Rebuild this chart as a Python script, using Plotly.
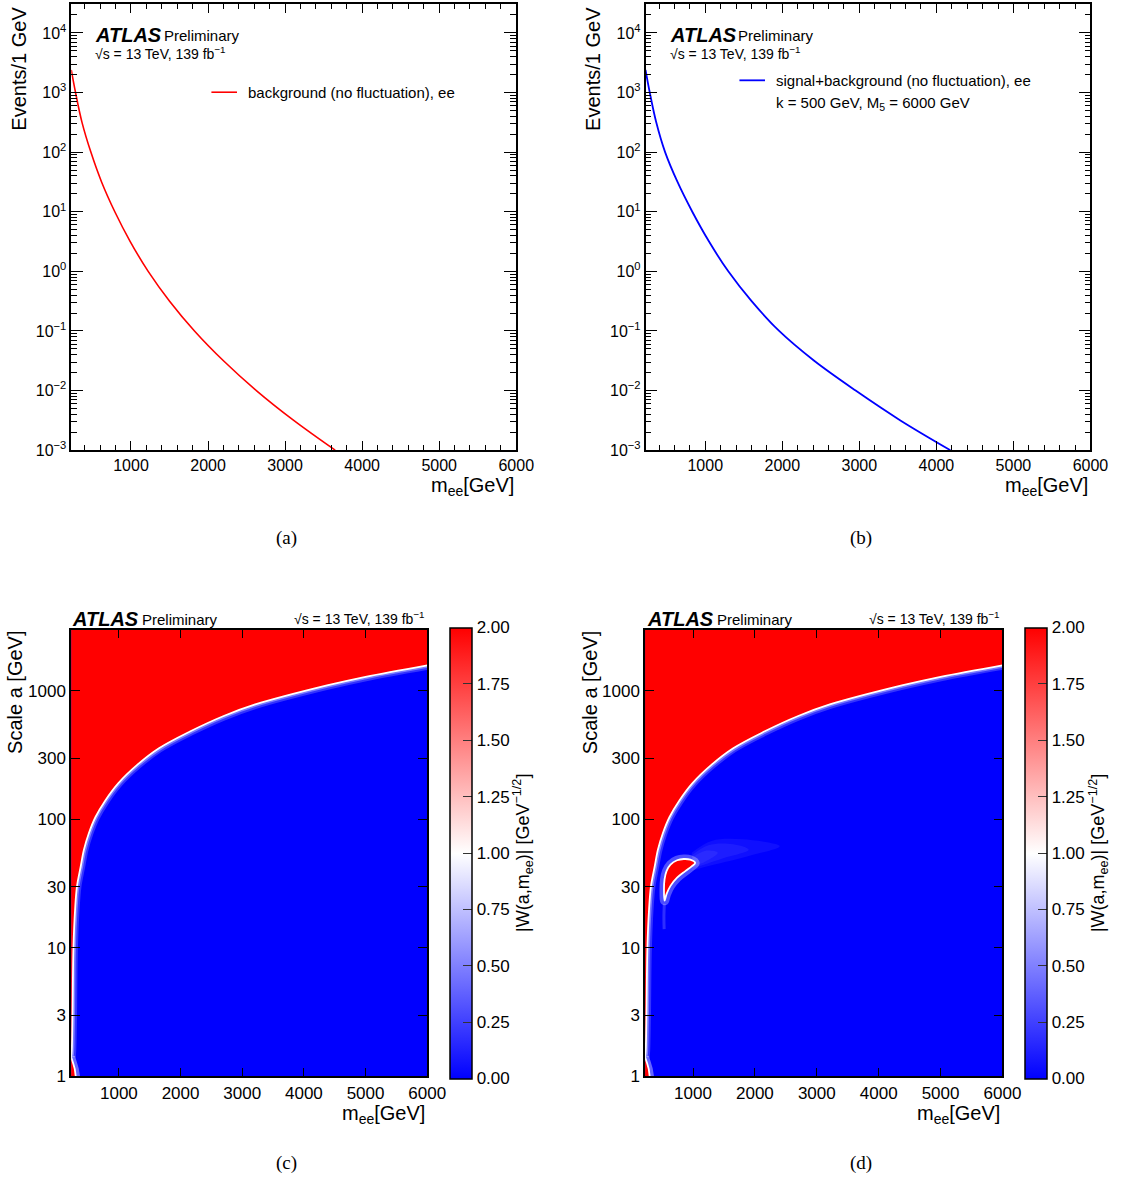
import math
import plotly.graph_objects as go

W, H = 1137, 1191
FONT = "Liberation Sans, Arial, Helvetica, sans-serif"
SERIF = "Liberation Serif, Times New Roman, serif"

# ---------------- data ----------------
# (a) background only (no fluctuation), ee  -- Events / 1 GeV
bkg_m = [225, 280, 364, 479, 618, 790, 990, 1223, 1501, 1824, 2200, 2627, 3112, 3650]
bkg_y = [2400, 1000, 316, 100, 31.6, 10, 3.16, 1.0, 0.316, 0.1, 0.0316, 0.01, 0.00316, 0.001]

# (b) signal + background (no fluctuation), ee
sb_m = [225, 280, 364, 479, 640, 832, 1049, 1299, 1602, 1959, 2414, 2952, 3533, 4182]
sb_y = [2400, 1000, 316, 100, 31.6, 10, 3.16, 1.0, 0.316, 0.1, 0.0316, 0.01, 0.00316, 0.001]

# (c),(d) contour where |W| crosses 1 (white ridge): mass vs scale a
ridge_m = [225, 232, 238, 248, 263, 290, 320, 381, 433, 513, 619, 778, 989, 1306, 1650,
           2152, 2700, 3211, 4375, 5000, 6000]
ridge_a = [1.42, 1.5, 1.7, 3, 10, 20, 30, 43, 58, 78, 104, 140, 191, 268, 358,
           483, 638, 785, 1105, 1290, 1585]

# small |W|>1 lobe at the lowest scales (bottom-left corner)
corner_m = [225, 240, 262, 285, 305, 312]
corner_a = [1.42, 1.36, 1.25, 1.14, 1.0, 0.9]

# (d) signal lobe (|W| > 1 region)
lobe_m = [1035, 956, 850, 743, 636, 572, 540, 531, 540, 572, 636, 743, 876, 983, 1035]
lobe_a = [45.9, 48.6, 49.2, 48.1, 44.5, 39.6, 34.1, 28.6, 23.3, 26.2, 30.4, 35.2, 39.6, 43.3, 45.9]
# faint glow (|W| ~ 0.6-0.8) trailing to the right of the lobe, outer to inner contour
halo1_m = [980, 1300, 1800, 2400, 1900, 1300, 980]
halo1_a = [55, 68, 70, 62, 52, 44, 40]
halo2_m = [990, 1250, 1650, 1900, 1500, 1150, 990]
halo2_a = [53, 63, 64, 58, 50, 44, 42]
halo3_m = [1000, 1200, 1400, 1200, 1000]
halo3_a = [51, 57, 55, 47, 43]
# faint tail below the lobe
tail_m = [537, 530, 534]
tail_a = [22, 17.5, 14]

# axis ranges / ticks
M_MIN, M_MAX = 225, 6000
A_MIN, A_MAX = 1, 3000
W_MIN, W_MAX = 0.0, 2.0
x_ticks = [1000, 2000, 3000, 4000, 5000, 6000]
x_minor = [v for v in range(400, 6000, 200) if v % 1000]
ev_ticks = [1e-3, 1e-2, 1e-1, 1, 10, 100, 1e3, 1e4]
ev_text = ["10<sup>−3</sup>", "10<sup>−2</sup>", "10<sup>−1</sup>", "10<sup>0</sup>",
           "10<sup>1</sup>", "10<sup>2</sup>", "10<sup>3</sup>", "10<sup>4</sup>"]
ev_minor = [k * d for d in [1e-3, 1e-2, 1e-1, 1, 10, 100, 1e3, 1e4] for k in range(2, 10)]
a_ticks = [1, 3, 10, 30, 100, 300, 1000]
a_text = ["1", "3", "10", "30", "100", "300", "1000"]
cb_ticks = [0.0, 0.25, 0.5, 0.75, 1.0, 1.25, 1.5, 1.75, 2.0]
cb_text = ["0.00", "0.25", "0.50", "0.75", "1.00", "1.25", "1.50", "1.75", "2.00"]
cb_minor = [i * 0.05 for i in range(41) if i % 5]

COLORSCALE = [[0.0, "#0000ff"], [0.5, "#ffffff"], [1.0, "#ff0000"]]


def px(X):
    return X / W


def py(Y):
    return 1 - Y / H


fig = go.Figure()


def add(**kw):
    kw.setdefault("hoverinfo", "skip")
    kw.setdefault("showlegend", False)
    fig.add_trace(go.Scatter(**kw))


SP = dict(shape="spline", smoothing=1)

# ---- (a) ----
add(x=bkg_m, y=bkg_y, mode="lines", line=dict(color="#ff0000", width=1.6, **SP), xaxis="x", yaxis="y")
# ---- (b) ----
add(x=sb_m, y=sb_y, mode="lines", line=dict(color="#0000ff", width=1.8, **SP), xaxis="x2", yaxis="y2")


def wavelet_panel(xa, ya, signal):
    # soft glow on the blue side of the ridge
    add(x=ridge_m, y=ridge_a, mode="lines", line=dict(color="rgba(255,255,255,0.20)", width=9, **SP),
        xaxis=xa, yaxis=ya)
    add(x=ridge_m, y=ridge_a, mode="lines", line=dict(color="rgba(255,255,255,0.35)", width=5, **SP),
        xaxis=xa, yaxis=ya)
    # |W| > 1 region (red) above the ridge: fill between top edge and ridge
    add(x=[M_MIN, M_MAX], y=[A_MAX, A_MAX], mode="lines", line=dict(width=0, color="#ff0000"),
        xaxis=xa, yaxis=ya)
    add(x=ridge_m, y=ridge_a, mode="lines", fill="tonexty", fillcolor="#ff0000",
        line=dict(color="#ffffff", width=1.8, **SP), xaxis=xa, yaxis=ya)
    # corner lobe
    add(x=corner_m, y=corner_a, mode="lines", line=dict(color="rgba(255,255,255,0.40)", width=8),
        xaxis=xa, yaxis=ya)
    add(x=corner_m + [M_MIN], y=corner_a + [corner_a[-1]], mode="lines", fill="toself",
        fillcolor="#ff0000", line=dict(width=0, color="#ff0000"), xaxis=xa, yaxis=ya)
    add(x=corner_m, y=corner_a, mode="lines", line=dict(color="#ffffff", width=1.8),
        xaxis=xa, yaxis=ya)
    if signal:
        for hm, ha in ((halo1_m, halo1_a), (halo2_m, halo2_a), (halo3_m, halo3_a)):
            add(x=hm, y=ha, mode="lines", fill="toself", fillcolor="rgba(255,255,255,0.06)",
                line=dict(width=0, color="rgba(255,255,255,0)", **SP), xaxis=xa, yaxis=ya)
        add(x=tail_m, y=tail_a, mode="lines",
            line=dict(color="rgba(255,255,255,0.18)", width=3, **SP), xaxis=xa, yaxis=ya)
        add(x=lobe_m, y=lobe_a, mode="lines",
            line=dict(color="rgba(255,255,255,0.30)", width=9, **SP), xaxis=xa, yaxis=ya)
        add(x=lobe_m, y=lobe_a, mode="lines", fill="toself", fillcolor="#ff0000",
            line=dict(width=1.8, color="#ffffff", **SP), xaxis=xa, yaxis=ya)


wavelet_panel("x3", "y3", False)
wavelet_panel("x4", "y4", True)

CB_TOP, CB_BOT, CB_THICK = 635, 1085.5, 22


def colorbar_trace(xa, ya, X_left):
    add(x=[3000], y=[3], xaxis=xa, yaxis=ya, mode="markers",
        marker=dict(size=1, opacity=0, color=[1.0], colorscale=COLORSCALE, cmin=W_MIN, cmax=W_MAX,
                    showscale=True,
                    colorbar=dict(x=px(X_left), xanchor="left", y=py((CB_TOP + CB_BOT) / 2),
                                  yanchor="middle", len=CB_BOT - CB_TOP, lenmode="pixels",
                                  thickness=CB_THICK, thicknessmode="pixels", xpad=0, ypad=0,
                                  outlinewidth=1.5, outlinecolor="black",
                                  tickmode="array", tickvals=cb_ticks, ticktext=cb_text,
                                  ticks="inside", ticklen=9, tickcolor="#333", tickwidth=1,
                                  tickfont=dict(family=FONT, size=17, color="black"))))
    # minor ticks of the colour scale, inside the bar on its right edge
    right = X_left + CB_THICK
    for v in cb_minor:
        Y = CB_BOT - (v - W_MIN) / (W_MAX - W_MIN) * (CB_BOT - CB_TOP)
        fig.add_shape(type="line", xref="paper", yref="paper", x0=px(right - 5), x1=px(right),
                      y0=py(Y), y1=py(Y), line=dict(color="#333", width=1))


colorbar_trace("x3", "y3", 457.5)
colorbar_trace("x4", "y4", 1042)

# ---------------- axes ----------------
common = dict(showline=True, linecolor="black", linewidth=1.5, mirror="ticks",
              ticks="inside", tickcolor="black", tickwidth=1.2, showgrid=False,
              zeroline=False, tickfont=dict(family=FONT, size=16, color="black"))


def xa_line(dom, anchor):
    return dict(common, domain=dom, anchor=anchor, range=[M_MIN, M_MAX],
                tickmode="array", tickvals=x_ticks, ticklen=9,
                minor=dict(tickmode="array", tickvals=x_minor, ticks="inside", ticklen=5,
                           tickcolor="black", tickwidth=1, showgrid=False))


def ya_line(dom, anchor):
    return dict(common, domain=dom, anchor=anchor, type="log", range=[-3, 4.477],
                tickmode="array", tickvals=ev_ticks, ticktext=ev_text, ticklen=12,
                minor=dict(tickmode="array", tickvals=ev_minor, ticks="inside", ticklen=6,
                           tickcolor="black", tickwidth=1, showgrid=False))


def xa_w(dom, anchor):
    return dict(common, domain=dom, anchor=anchor, range=[M_MIN, M_MAX],
                tickmode="array", tickvals=x_ticks, ticklen=9,
                tickfont=dict(family=FONT, size=17, color="black"))


def ya_w(dom, anchor):
    return dict(common, domain=dom, anchor=anchor, type="log",
                range=[math.log10(A_MIN), math.log10(A_MAX)],
                tickmode="array", tickvals=a_ticks, ticktext=a_text, ticklen=9,
                tickfont=dict(family=FONT, size=17, color="black"))


top_dom = [py(454), py(4.5)]
bot_dom = [py(CB_BOT), py(CB_TOP)]
fig.update_layout(
    xaxis=xa_line([px(72.5), px(525)], "y"),
    yaxis=ya_line(top_dom, "x"),
    xaxis2=xa_line([px(656.5), px(1109)], "y2"),
    yaxis2=ya_line(top_dom, "x2"),
    xaxis3=xa_w([px(72.3), px(434.5)], "y3"),
    yaxis3=ya_w(bot_dom, "x3"),
    xaxis4=xa_w([px(656), px(1019.5)], "y4"),
    yaxis4=ya_w(bot_dom, "x4"),
)

# blue background of the wavelet maps
for k in ("3", "4"):
    fig.add_shape(type="rect", xref=f"x{k} domain", yref=f"y{k} domain", x0=0, x1=1, y0=0, y1=1,
                  fillcolor="#0000ff", line=dict(width=0), layer="below")

# legend lines
fig.add_shape(type="line", xref="paper", yref="paper", x0=px(215), x1=px(241), y0=py(93), y1=py(93),
              line=dict(color="#ff0000", width=1.6))
fig.add_shape(type="line", xref="paper", yref="paper", x0=px(752), x1=px(778), y0=py(81), y1=py(81),
              line=dict(color="#0000ff", width=1.8))

ann = []


def text(X, Y, s, size, xanchor="left", yanchor="middle", angle=0, family=FONT):
    ann.append(dict(x=px(X), y=py(Y), xref="paper", yref="paper", text=s, showarrow=False,
                    xanchor=xanchor, yanchor=yanchor, textangle=angle,
                    font=dict(family=family, size=size, color="black")))


SQRT = "√s = 13 TeV, 139 fb<sup>−1</sup>"
# (a)
text(95, 35, "<b><i>ATLAS</i></b>", 20)
text(165, 36, "Preliminary", 15)
text(95, 53, SQRT, 14)
text(250, 93, "background (no fluctuation), ee", 15)
text(19, 5, "Events/1 GeV", 20, xanchor="center", yanchor="top", angle=-90)
text(525, 491, "m<sub>ee</sub>[GeV]", 20, xanchor="right")
text(291, 543, "(a)", 19, xanchor="center", family=SERIF)
# (b)
text(679, 35, "<b><i>ATLAS</i></b>", 20)
text(749, 36, "Preliminary", 15)
text(679, 53, SQRT, 14)
text(787, 81, "signal+background (no fluctuation), ee", 15)
text(787, 104, "k = 500 GeV, M<sub>5</sub> = 6000 GeV", 15)
text(603, 5, "Events/1 GeV", 20, xanchor="center", yanchor="top", angle=-90)
text(1109, 491, "m<sub>ee</sub>[GeV]", 20, xanchor="right")
text(876, 543, "(b)", 19, xanchor="center", family=SERIF)
# (c)
text(71, 624, "<b><i>ATLAS</i></b>", 20)
text(142, 625, "Preliminary", 15)
text(434, 623, SQRT, 14, xanchor="right")
text(15, 634, "Scale a [GeV]", 20, xanchor="center", yanchor="top", angle=-90)
text(434, 1124, "m<sub>ee</sub>[GeV]", 20, xanchor="right")
text(532, 860, "|W(a,m<sub>ee</sub>)| [GeV<sup>−1/2</sup>]", 18, xanchor="center", angle=-90)
text(291, 1173, "(c)", 19, xanchor="center", family=SERIF)
# (d)
text(656, 624, "<b><i>ATLAS</i></b>", 20)
text(727, 625, "Preliminary", 15)
text(1019, 623, SQRT, 14, xanchor="right")
text(600, 634, "Scale a [GeV]", 20, xanchor="center", yanchor="top", angle=-90)
text(1019, 1124, "m<sub>ee</sub>[GeV]", 20, xanchor="right")
text(1117, 860, "|W(a,m<sub>ee</sub>)| [GeV<sup>−1/2</sup>]", 18, xanchor="center", angle=-90)
text(876, 1173, "(d)", 19, xanchor="center", family=SERIF)

fig.update_layout(annotations=ann, width=W, height=H, margin=dict(l=0, r=0, t=0, b=0),
                  paper_bgcolor="white", plot_bgcolor="white", showlegend=False,
                  font=dict(family=FONT, color="black"))

fig.write_html("out.html")
